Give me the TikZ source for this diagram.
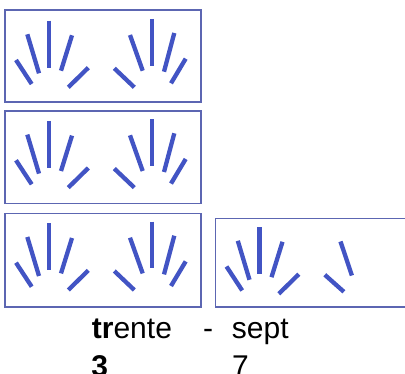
\documentclass[tikz,border=0pt]{standalone}
\usepackage{fontspec}
\setmainfont{Liberation Sans}
\definecolor{strokeblue}{RGB}{66,84,196}
\definecolor{boxblue}{RGB}{92,102,178}
\tikzset{
  finger/.style={draw=strokeblue, line width=4.3pt, line cap=butt},
  frame/.style={draw=boxblue, line width=1.3pt},
  word/.style={font=\fontsize{30}{36}\selectfont, inner sep=0pt, anchor=base west, text=black}
}
\newcommand{\lefthand}{%
  \draw[finger] (11,50) -- (26.7,74);
  \draw[finger] (22.3,24.3) -- (34,63.3);
  \draw[finger] (44,10.7) -- (44,57.7);
  \draw[finger] (67,25.3) -- (56,60.7);
  \draw[finger] (83.3,57.7) -- (63.3,77.3);
}
\newcommand{\righthand}{%
  \draw[finger] (109.3,58.3) -- (129.3,77.3);
  \draw[finger] (125,25) -- (137.7,60.7);
  \draw[finger] (147.3,9) -- (147.3,55.7);
  \draw[finger] (169.3,23) -- (159,61.7);
  \draw[finger] (180.7,48.7) -- (166,73.3);
}
\newcommand{\twohands}{\lefthand\righthand}
\begin{document}
\begin{tikzpicture}[x=1pt,y=-1pt]
\useasboundingbox (0,0) rectangle (405,374);
\clip (0,0) rectangle (405,374);
\fill[white] (0,0) rectangle (405,374);
% boxes
\draw[frame] (5,10) rectangle (201,102);
\draw[frame] (5,111) rectangle (201,203.5);
\draw[frame] (5,213.5) rectangle (201,307);
\draw[frame] (215.5,218.5) rectangle (412,307);
% hands
\begin{scope}[shift={(5,10)}]\twohands\end{scope}
\begin{scope}[shift={(5,110.3)}]\twohands\end{scope}
\begin{scope}[shift={(5,212.7)}]\twohands\end{scope}
\begin{scope}[shift={(215.5,216.5)}]
  \lefthand
  \draw[finger] (109.3,58.3) -- (128.4,75.3);
  \draw[finger] (125,25) -- (136.4,59);
\end{scope}
% text
\node[word] (trente) at (91.7,338.3) {\textbf{tr}ente};
\node[word] (dash) at (203,338.3) {-};
\node[word] (sept) at (231.7,338.3) {sept};
\node[word] (trois) at (91.2,376.5) {\textbf{3}};
\node[word] (sept7) at (232,376.5) {7};
\end{tikzpicture}
\end{document}
